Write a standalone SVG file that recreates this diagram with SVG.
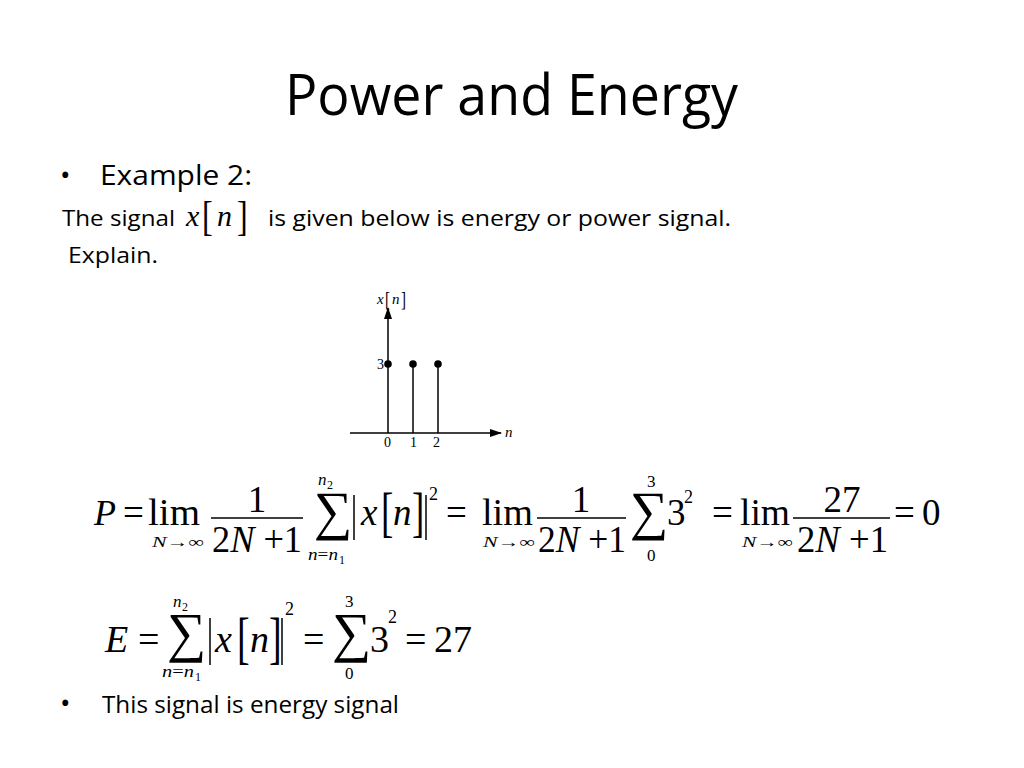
<svg xmlns="http://www.w3.org/2000/svg" width="1024" height="768" viewBox="0 0 1024 768">
<defs>
<style>
.s{font-family:"Open Sans","Liberation Sans",sans-serif;fill:#000}
.m{font-family:"Liberation Serif","DejaVu Serif",serif;fill:#000}
.i{font-style:italic}
.ax{stroke:#000;stroke-width:1.5;fill:none}
.bar{stroke:#000;stroke-width:1.5}
.fl{stroke:#000;stroke-width:1.6}
</style>
<marker id="ar" markerWidth="12" markerHeight="8" refX="11" refY="4" orient="auto" markerUnits="userSpaceOnUse"><path d="M0,0 L12,4 L0,8 Z" fill="#000"/></marker>
</defs>
<rect width="1024" height="768" fill="#fff"/>
<g id="title"><text class="s" x="285" y="115" font-size="56" textLength="453" lengthAdjust="spacingAndGlyphs">Power and Energy</text></g>
<g id="text1">
<text class="s" x="60" y="185" font-size="28">•</text>
<text class="s" x="100" y="185" font-size="27" textLength="152" lengthAdjust="spacingAndGlyphs">Example 2:</text>
<text class="s" x="62" y="226" font-size="22" textLength="113" lengthAdjust="spacingAndGlyphs">The signal</text>
<text class="m i" x="186" y="226" font-size="30">x</text>
<text class="m" font-size="32" transform="translate(202 230) scale(1 1.35)">[</text>
<text class="m i" x="217" y="226" font-size="30">n</text>
<text class="m" font-size="32" transform="translate(237 230) scale(1 1.35)">]</text>
<text class="s" x="268" y="226" font-size="22" textLength="463" lengthAdjust="spacingAndGlyphs">is given below is energy or power signal.</text>
<text class="s" x="68" y="263" font-size="22" textLength="90" lengthAdjust="spacingAndGlyphs">Explain.</text>
</g>
<g id="plot">
<line class="ax" x1="350" y1="433" x2="501" y2="433" marker-end="url(#ar)"/>
<line class="ax" x1="388" y1="433" x2="388" y2="308" marker-end="url(#ar)"/>
<line class="ax" x1="413" y1="433" x2="413" y2="364"/>
<line class="ax" x1="438" y1="433" x2="438" y2="364"/>
<circle cx="388" cy="364" r="3.8"/>
<circle cx="413" cy="364" r="3.8"/>
<circle cx="438" cy="364" r="3.8"/>
<text class="m" x="377" y="369" font-size="14">3</text>
<text class="m" x="384" y="447" font-size="14">0</text>
<text class="m" x="410" y="447" font-size="14">1</text>
<text class="m" x="433" y="447" font-size="14">2</text>
<text class="m i" x="505" y="437" font-size="15">n</text>
<text class="m i" x="377" y="304" font-size="15">x</text>
<text class="m" font-size="15" transform="translate(385 306) scale(1 1.4)">[</text>
<text class="m i" x="392" y="304" font-size="15">n</text>
<text class="m" font-size="15" transform="translate(401 306) scale(1 1.4)">]</text>
</g>
<g id="powerEq">
<text class="m i" x="94" y="525" font-size="36">P</text>
<text class="m" x="123" y="525" font-size="37">=</text>
<text class="m" x="148" y="525" font-size="37" textLength="52" lengthAdjust="spacingAndGlyphs">lim</text>
<text class="m" x="152" y="547" font-size="15" textLength="52" lengthAdjust="spacingAndGlyphs"><tspan class="i">N</tspan>→∞</text>
<text class="m" x="257" y="512" font-size="37" text-anchor="middle">1</text>
<line class="fl" x1="211" y1="518" x2="303" y2="518"/>
<text class="m" x="212" y="552" font-size="37" textLength="90" lengthAdjust="spacingAndGlyphs">2<tspan class="i">N</tspan> +1</text>
<text class="m" x="314" y="529" font-size="54">∑</text>
<text class="m i" x="318" y="485" font-size="17">n</text><text class="m" x="327" y="489" font-size="12">2</text>
<text class="m" x="308" y="560" font-size="17" textLength="30" lengthAdjust="spacingAndGlyphs"><tspan class="i">n</tspan>=<tspan class="i">n</tspan></text><text class="m" x="339" y="564" font-size="12">1</text>
<line class="bar" x1="354" y1="495" x2="354" y2="540"/>
<text class="m i" x="361" y="525" font-size="37">x</text>
<text class="m" font-size="37" transform="translate(381 530.5) scale(1 1.5)">[</text>
<text class="m i" x="393" y="525" font-size="37">n</text>
<text class="m" font-size="37" transform="translate(412 530.5) scale(1 1.5)">]</text>
<line class="bar" x1="426" y1="495" x2="426" y2="540"/>
<text class="m" x="429" y="500" font-size="18">2</text>
<text class="m" x="446" y="525" font-size="37">=</text>
<text class="m" x="482" y="525" font-size="37" textLength="51" lengthAdjust="spacingAndGlyphs">lim</text>
<text class="m" x="483" y="547" font-size="15" textLength="52" lengthAdjust="spacingAndGlyphs"><tspan class="i">N</tspan>→∞</text>
<text class="m" x="581" y="512" font-size="37" text-anchor="middle">1</text>
<line class="fl" x1="537" y1="518" x2="626" y2="518"/>
<text class="m" x="538" y="552" font-size="37" textLength="88" lengthAdjust="spacingAndGlyphs">2<tspan class="i">N</tspan> +1</text>
<text class="m" x="630" y="529" font-size="54">∑</text>
<text class="m" x="647" y="487" font-size="17">3</text>
<text class="m" x="647" y="561" font-size="17">0</text>
<text class="m" x="667" y="525" font-size="37">3</text>
<text class="m" x="684" y="503" font-size="18">2</text>
<text class="m" x="712" y="525" font-size="37">=</text>
<text class="m" x="740" y="525" font-size="37" textLength="50" lengthAdjust="spacingAndGlyphs">lim</text>
<text class="m" x="742" y="547" font-size="15" textLength="51" lengthAdjust="spacingAndGlyphs"><tspan class="i">N</tspan>→∞</text>
<text class="m" x="842" y="512" font-size="37" text-anchor="middle">27</text>
<line class="fl" x1="793" y1="518" x2="890" y2="518"/>
<text class="m" x="797" y="552" font-size="37" textLength="91" lengthAdjust="spacingAndGlyphs">2<tspan class="i">N</tspan> +1</text>
<text class="m" x="894" y="525" font-size="37">=</text>
<text class="m" x="922" y="525" font-size="37">0</text>
</g>
<g id="energyEq">
<text class="m i" x="105" y="652" font-size="38">E</text>
<text class="m" x="138" y="652" font-size="38">=</text>
<text class="m" x="167" y="651" font-size="55">∑</text>
<text class="m i" x="173" y="607" font-size="17">n</text><text class="m" x="182" y="611" font-size="12">2</text>
<text class="m" x="162" y="677" font-size="17" textLength="32" lengthAdjust="spacingAndGlyphs"><tspan class="i">n</tspan>=<tspan class="i">n</tspan></text><text class="m" x="195" y="681" font-size="12">1</text>
<line class="bar" x1="210" y1="618" x2="210" y2="665"/>
<text class="m i" x="215" y="652" font-size="38">x</text>
<text class="m" font-size="38" transform="translate(237 656.5) scale(1 1.5)">[</text>
<text class="m i" x="250" y="652" font-size="38">n</text>
<text class="m" font-size="38" transform="translate(269 656.5) scale(1 1.5)">]</text>
<line class="bar" x1="282" y1="618" x2="282" y2="665"/>
<text class="m" x="285" y="615" font-size="18">2</text>
<text class="m" x="303" y="652" font-size="38">=</text>
<text class="m" x="332" y="651" font-size="55">∑</text>
<text class="m" x="345" y="607" font-size="17">3</text>
<text class="m" x="345" y="679" font-size="17">0</text>
<text class="m" x="370" y="652" font-size="38">3</text>
<text class="m" x="388" y="623" font-size="18">2</text>
<text class="m" x="405" y="652" font-size="38">=</text>
<text class="m" x="434" y="652" font-size="38">27</text>
</g>
<g id="conclusion">
<text class="s" x="60" y="713" font-size="28">•</text>
<text class="s" x="102" y="713" font-size="23" textLength="297" lengthAdjust="spacingAndGlyphs">This signal is energy signal</text>
</g>
</svg>
